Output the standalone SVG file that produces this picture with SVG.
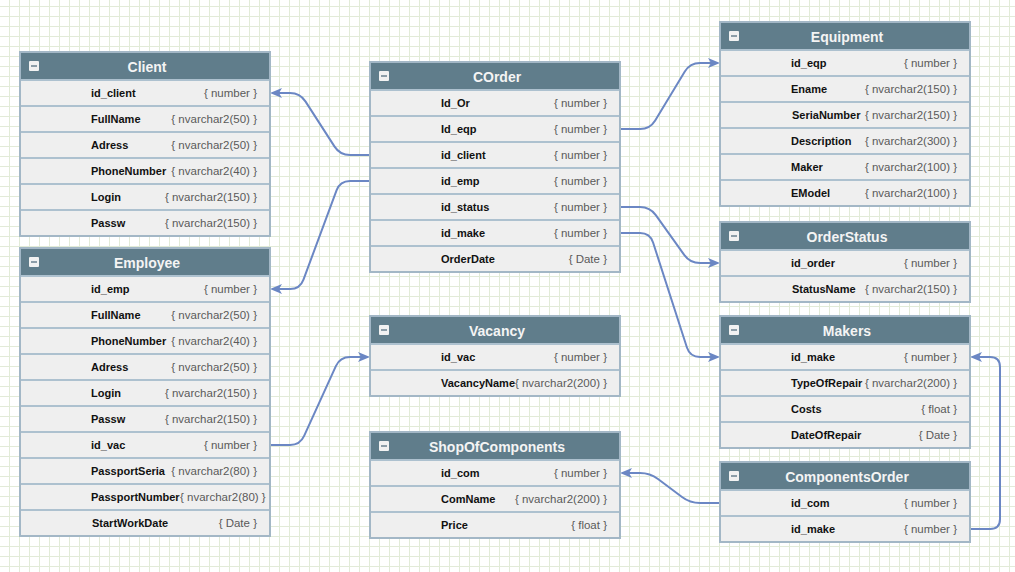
<svg xmlns="http://www.w3.org/2000/svg" width="1015" height="572" viewBox="0 0 1015 572">
<style>
.frame{fill:#efefef;stroke:#a3b7c6;stroke-width:2}
.hdr{fill:#607d8b}
.sep{stroke:#adc1cf;stroke-width:2}
.btn{fill:#f2f2f2}
.btnbar{fill:#8d9ea9}
.title{font-family:"Liberation Sans",Arial,sans-serif;font-size:14px;font-weight:bold;fill:#f4f4f4;text-anchor:middle}
.nm{font-family:"Liberation Sans",Arial,sans-serif;font-size:11px;font-weight:bold;fill:#111}
.tp{font-family:"Liberation Sans",Arial,sans-serif;font-size:11.5px;fill:#5a5a5a;text-anchor:end}
.tps{font-family:"Liberation Sans",Arial,sans-serif;font-size:11.5px;fill:#5a5a5a}
.link{fill:none;stroke:#6b87c4;stroke-width:2;marker-end:url(#arr)}
</style>
<defs>
<pattern id="grid" x="9" y="6" width="10" height="10" patternUnits="userSpaceOnUse">
<path d="M0.5,0 V10 M0,0.5 H10" stroke="#e2ebd8" stroke-width="1" fill="none"/>
</pattern>
<marker id="arr" markerUnits="userSpaceOnUse" markerWidth="14" markerHeight="12" refX="6" refY="5" orient="auto" viewBox="0 0 14 12">
<path d="M0,0 L12,5 L0,10 L3,5 Z" fill="#6b87c4"/>
</marker>
</defs>
<rect width="1015" height="572" fill="#ffffff"/>
<rect width="1015" height="572" fill="url(#grid)"/>

<g id="connectors">
<path class="link" d="M370,155 L350,155 Q340,155 334.58,146.6 L305.42,101.4 Q300,93 290,93 L276,93"/>
<path class="link" d="M370,181 L350,181 Q340,181 336.53,190.38 L303.47,279.62 Q300,289 290,289 L276,289"/>
<path class="link" d="M620,129 L640,129 Q650,129 655.18,120.45 L684.82,71.55 Q690,63 700,63 L714,63"/>
<path class="link" d="M620,207 L640,207 Q650,207 655.81,215.14 L684.19,254.86 Q690,263 700,263 L714,263"/>
<path class="link" d="M620,233 L640,233 Q650,233 653.07,242.52 L686.93,347.48 Q690,357 700,357 L714,357"/>
<path class="link" d="M270,445 L290,445 Q300,445 304.14,435.9 L335.86,366.1 Q340,357 350,357 L364,357"/>
<path class="link" d="M720,503 L700,503 Q690,503 682,497 L658,479 Q650,473 640,473 L626,473"/>
<path class="link" d="M970,529 L990,529 Q1000,529 1000,519 L1000,367 Q1000,357 990,357 L976,357"/>
</g>

<g id="Client">
<rect class="frame" x="20" y="52" width="250" height="184"/>
<rect class="hdr" x="21" y="53" width="248" height="27"/>
<rect class="btn" x="29" y="61" width="10" height="10" rx="1"/><rect class="btnbar" x="31" y="65" width="6" height="2"/>
<text class="title" x="147" y="72">Client</text>
<path class="sep" d="M21,80H269M21,106H269M21,132H269M21,158H269M21,184H269M21,210H269"/>
<text class="nm" x="91" y="97">id_client</text><text class="tp" x="257" y="97">{ number }</text>
<text class="nm" x="91" y="123">FullName</text><text class="tp" x="257" y="123">{ nvarchar2(50) }</text>
<text class="nm" x="91" y="149">Adress</text><text class="tp" x="257" y="149">{ nvarchar2(50) }</text>
<text class="nm" x="91" y="175">PhoneNumber</text><text class="tp" x="257" y="175">{ nvarchar2(40) }</text>
<text class="nm" x="91" y="201">Login</text><text class="tp" x="257" y="201">{ nvarchar2(150) }</text>
<text class="nm" x="91" y="227">Passw</text><text class="tp" x="257" y="227">{ nvarchar2(150) }</text>
</g>

<g id="Employee">
<rect class="frame" x="20" y="248" width="250" height="288"/>
<rect class="hdr" x="21" y="249" width="248" height="27"/>
<rect class="btn" x="29" y="257" width="10" height="10" rx="1"/><rect class="btnbar" x="31" y="261" width="6" height="2"/>
<text class="title" x="147" y="268">Employee</text>
<path class="sep" d="M21,276H269M21,302H269M21,328H269M21,354H269M21,380H269M21,406H269M21,432H269M21,458H269M21,484H269M21,510H269"/>
<text class="nm" x="91" y="293">id_emp</text><text class="tp" x="257" y="293">{ number }</text>
<text class="nm" x="91" y="319">FullName</text><text class="tp" x="257" y="319">{ nvarchar2(50) }</text>
<text class="nm" x="91" y="345">PhoneNumber</text><text class="tp" x="257" y="345">{ nvarchar2(40) }</text>
<text class="nm" x="91" y="371">Adress</text><text class="tp" x="257" y="371">{ nvarchar2(50) }</text>
<text class="nm" x="91" y="397">Login</text><text class="tp" x="257" y="397">{ nvarchar2(150) }</text>
<text class="nm" x="91" y="423">Passw</text><text class="tp" x="257" y="423">{ nvarchar2(150) }</text>
<text class="nm" x="91" y="449">id_vac</text><text class="tp" x="257" y="449">{ number }</text>
<text class="nm" x="91" y="475">PassportSeria</text><text class="tp" x="257" y="475">{ nvarchar2(80) }</text>
<text class="nm" x="91" y="501">PassportNumber</text><text class="tps" x="180" y="501">{ nvarchar2(80) }</text>
<text class="nm" x="92" y="527">StartWorkDate</text><text class="tp" x="257" y="527">{ Date }</text>
</g>

<g id="COrder">
<rect class="frame" x="370" y="62" width="250" height="210"/>
<rect class="hdr" x="371" y="63" width="248" height="27"/>
<rect class="btn" x="379" y="71" width="10" height="10" rx="1"/><rect class="btnbar" x="381" y="75" width="6" height="2"/>
<text class="title" x="497" y="82">COrder</text>
<path class="sep" d="M371,90H619M371,116H619M371,142H619M371,168H619M371,194H619M371,220H619M371,246H619"/>
<text class="nm" x="441" y="107">Id_Or</text><text class="tp" x="607" y="107">{ number }</text>
<text class="nm" x="441" y="133">Id_eqp</text><text class="tp" x="607" y="133">{ number }</text>
<text class="nm" x="441" y="159">id_client</text><text class="tp" x="607" y="159">{ number }</text>
<text class="nm" x="441" y="185">id_emp</text><text class="tp" x="607" y="185">{ number }</text>
<text class="nm" x="441" y="211">id_status</text><text class="tp" x="607" y="211">{ number }</text>
<text class="nm" x="441" y="237">id_make</text><text class="tp" x="607" y="237">{ number }</text>
<text class="nm" x="441" y="263">OrderDate</text><text class="tp" x="607" y="263">{ Date }</text>
</g>

<g id="Vacancy">
<rect class="frame" x="370" y="316" width="250" height="80"/>
<rect class="hdr" x="371" y="317" width="248" height="27"/>
<rect class="btn" x="379" y="325" width="10" height="10" rx="1"/><rect class="btnbar" x="381" y="329" width="6" height="2"/>
<text class="title" x="497" y="336">Vacancy</text>
<path class="sep" d="M371,344H619M371,370H619"/>
<text class="nm" x="441" y="361">id_vac</text><text class="tp" x="607" y="361">{ number }</text>
<text class="nm" x="441" y="387">VacancyName</text><text class="tp" x="607" y="387">{ nvarchar2(200) }</text>
</g>

<g id="ShopOfComponents">
<rect class="frame" x="370" y="432" width="250" height="106"/>
<rect class="hdr" x="371" y="433" width="248" height="27"/>
<rect class="btn" x="379" y="441" width="10" height="10" rx="1"/><rect class="btnbar" x="381" y="445" width="6" height="2"/>
<text class="title" x="497" y="452">ShopOfComponents</text>
<path class="sep" d="M371,460H619M371,486H619M371,512H619"/>
<text class="nm" x="441" y="477">id_com</text><text class="tp" x="607" y="477">{ number }</text>
<text class="nm" x="441" y="503">ComName</text><text class="tp" x="607" y="503">{ nvarchar2(200) }</text>
<text class="nm" x="441" y="529">Price</text><text class="tp" x="607" y="529">{ float }</text>
</g>

<g id="Equipment">
<rect class="frame" x="720" y="22" width="250" height="184"/>
<rect class="hdr" x="721" y="23" width="248" height="27"/>
<rect class="btn" x="729" y="31" width="10" height="10" rx="1"/><rect class="btnbar" x="731" y="35" width="6" height="2"/>
<text class="title" x="847" y="42">Equipment</text>
<path class="sep" d="M721,50H969M721,76H969M721,102H969M721,128H969M721,154H969M721,180H969"/>
<text class="nm" x="791" y="67">id_eqp</text><text class="tp" x="957" y="67">{ number }</text>
<text class="nm" x="791" y="93">Ename</text><text class="tp" x="957" y="93">{ nvarchar2(150) }</text>
<text class="nm" x="792" y="119">SeriaNumber</text><text class="tp" x="957" y="119">{ nvarchar2(150) }</text>
<text class="nm" x="791" y="145">Description</text><text class="tp" x="957" y="145">{ nvarchar2(300) }</text>
<text class="nm" x="791" y="171">Maker</text><text class="tp" x="957" y="171">{ nvarchar2(100) }</text>
<text class="nm" x="791" y="197">EModel</text><text class="tp" x="957" y="197">{ nvarchar2(100) }</text>
</g>

<g id="OrderStatus">
<rect class="frame" x="720" y="222" width="250" height="80"/>
<rect class="hdr" x="721" y="223" width="248" height="27"/>
<rect class="btn" x="729" y="231" width="10" height="10" rx="1"/><rect class="btnbar" x="731" y="235" width="6" height="2"/>
<text class="title" x="847" y="242">OrderStatus</text>
<path class="sep" d="M721,250H969M721,276H969"/>
<text class="nm" x="791" y="267">id_order</text><text class="tp" x="957" y="267">{ number }</text>
<text class="nm" x="792" y="293">StatusName</text><text class="tp" x="957" y="293">{ nvarchar2(150) }</text>
</g>

<g id="Makers">
<rect class="frame" x="720" y="316" width="250" height="132"/>
<rect class="hdr" x="721" y="317" width="248" height="27"/>
<rect class="btn" x="729" y="325" width="10" height="10" rx="1"/><rect class="btnbar" x="731" y="329" width="6" height="2"/>
<text class="title" x="847" y="336">Makers</text>
<path class="sep" d="M721,344H969M721,370H969M721,396H969M721,422H969"/>
<text class="nm" x="791" y="361">id_make</text><text class="tp" x="957" y="361">{ number }</text>
<text class="nm" x="791" y="387">TypeOfRepair</text><text class="tp" x="957" y="387">{ nvarchar2(200) }</text>
<text class="nm" x="791" y="413">Costs</text><text class="tp" x="957" y="413">{ float }</text>
<text class="nm" x="791" y="439">DateOfRepair</text><text class="tp" x="957" y="439">{ Date }</text>
</g>

<g id="ComponentsOrder">
<rect class="frame" x="720" y="462" width="250" height="80"/>
<rect class="hdr" x="721" y="463" width="248" height="27"/>
<rect class="btn" x="729" y="471" width="10" height="10" rx="1"/><rect class="btnbar" x="731" y="475" width="6" height="2"/>
<text class="title" x="847" y="482">ComponentsOrder</text>
<path class="sep" d="M721,490H969M721,516H969"/>
<text class="nm" x="791" y="507">id_com</text><text class="tp" x="957" y="507">{ number }</text>
<text class="nm" x="791" y="533">id_make</text><text class="tp" x="957" y="533">{ number }</text>
</g>
</svg>
